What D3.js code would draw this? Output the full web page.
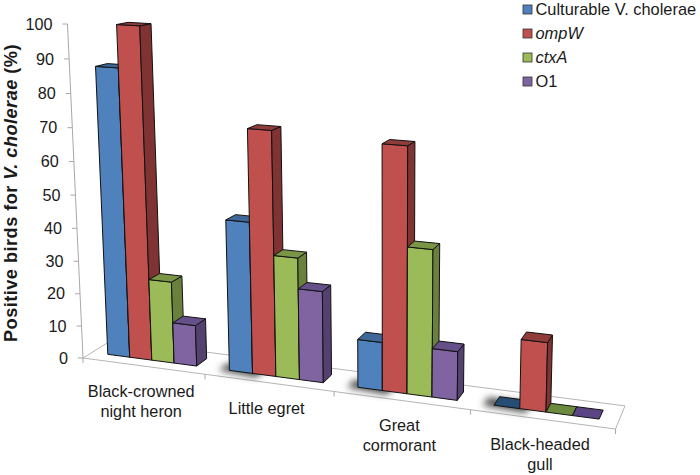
<!DOCTYPE html>
<html>
<head>
<meta charset="utf-8">
<script src="https://cdn.jsdelivr.net/npm/d3@7"></script>
<style>
body { margin: 0; background: #fff; }
text { font-family: "Liberation Sans", Arial, sans-serif; fill: #1a1a1a; }
</style>
</head>
<body>
<div id="chart"></div>
<script>
// values
var categories = [["Black-crowned", "night heron"], ["Little egret"], ["Great", "cormorant"], ["Black-headed", "gull"]];
var seriesNames = ["Culturable V. cholerae", "ompW", "ctxA", "O1"];
var culturable = [87.5, 45.5, 14.3, 0];
var ompW = [100, 72.7, 71.4, 20];
var ctxA = [25, 36.4, 42.9, 0];
var o1 = [12.5, 27.3, 14.3, 0];
var yTicks = [0, 10, 20, 30, 40, 50, 60, 70, 80, 90, 100];

var series = [culturable, ompW, ctxA, o1];
var frontColor = ["#4f81bd", "#c0504d", "#9bbb59", "#8064a2"];
var sideColor = ["#35577f", "#7f3332", "#6a813d", "#54416f"];
var topColor = ["#3f6797", "#8f3c3a", "#7b9546", "#65508a"];
var flatColor = ["#264d73", "#8f3c3a", "#6b8a3e", "#5b4584"];

var width = 700, height = 475;

var svg = d3.select("#chart").append("svg")
	.attr("width", width)
	.attr("height", height)
	.style("display", "block");

svg.append("defs").append("filter")
	.attr("id", "soft")
	.attr("x", "-50%").attr("y", "-50%").attr("width", "200%").attr("height", "200%")
  .append("feGaussianBlur")
	.attr("stdDeviation", 3.5);

// scales work in the unit box of the 3d plot, project() takes it to the screen
var xScale = d3.scaleBand().domain(d3.range(categories.length)).range([0, 1])
	.paddingInner(0.264).paddingOuter(0.132);
var barScale = d3.scaleBand().domain(d3.range(series.length)).range([0, xScale.bandwidth()]);
var yScale = d3.scaleLinear().domain([0, 100]).range([0, 1]);
var zFront = 0.31, zBack = 0.7;

function project(x, y, z) {
	var w = 1 - 0.108 * x - 0.048 * y + 0.04 * z;
	return [
		(466 * x - 18.74 * y + 33.5 * z + 83) / w,
		(24.7 * x - 335.15 * y - 4.4 * z + 358) / w
	];
}

var poly = d3.line().curve(d3.curveLinearClosed);

function face(pts, fill, stroke) {
	return svg.append("path")
		.attr("d", poly(pts))
		.attr("fill", fill)
		.attr("stroke", stroke)
		.attr("stroke-width", 1)
		.attr("stroke-linejoin", "round");
}

// floor
face([project(0, 0, 0), project(1, 0, 0), project(1, 0, 1), project(0, 0, 1)], "#fff", "#b5b5b5");

// y axis
svg.append("line")
	.attr("x1", project(0, 0, 0)[0]).attr("y1", project(0, 0, 0)[1])
	.attr("x2", project(0, 1, 0)[0]).attr("y2", project(0, 1, 0)[1])
	.attr("stroke", "#a8a8a8");

yTicks.forEach(function(t) {
	var p = project(0, yScale(t), 0);
	svg.append("line")
		.attr("x1", p[0] - 5).attr("x2", p[0])
		.attr("y1", p[1]).attr("y2", p[1])
		.attr("stroke", "#a8a8a8");
	svg.append("text")
		.attr("x", p[0] - 15)
		.attr("y", p[1])
		.attr("dy", ".35em")
		.attr("text-anchor", "end")
		.style("font-size", "16.2px")
		.text(t);
});

// x axis ticks
d3.range(categories.length + 1).forEach(function(i) {
	var p = project(i / categories.length, 0, 0);
	svg.append("line")
		.attr("x1", p[0]).attr("x2", p[0])
		.attr("y1", p[1]).attr("y2", p[1] + 5)
		.attr("stroke", "#a8a8a8");
});

// soft shadow on the floor, left of each group
categories.forEach(function(c, i) {
	if (i == 0) return;
	var x0 = xScale(i);
	face([project(x0 - 0.018, 0, zFront - 0.06), project(x0 + 0.06, 0, zFront - 0.14),
		project(x0 + 0.06, 0, zBack - 0.1), project(x0 - 0.018, 0, zBack - 0.1)], "#444", "none")
		.attr("filter", "url(#soft)");
});

// bars, left to right so that each one covers the side of the one before
categories.forEach(function(c, i) {
	series.forEach(function(s, j) {
		var x0 = xScale(i) + barScale(j),
			x1 = x0 + barScale.bandwidth(),
			h = yScale(s[i]);
		if (s[i] > 0) {
			face([project(x0, 0, zFront), project(x1, 0, zFront), project(x1, h, zFront), project(x0, h, zFront)], frontColor[j], "#111");
			face([project(x1, 0, zFront), project(x1, 0, zBack), project(x1, h, zBack), project(x1, h, zFront)], sideColor[j], "#111");
		}
		face([project(x0, h, zFront), project(x1, h, zFront), project(x1, h, zBack), project(x0, h, zBack)],
			s[i] > 0 ? topColor[j] : flatColor[j], "#111");
	});
});

// category labels
categories.forEach(function(c, i) {
	var p = project(xScale(i) + xScale.bandwidth() / 2, 0, 0);
	var label = svg.append("text")
		.attr("text-anchor", "middle")
		.style("font-size", "16.3px");
	c.forEach(function(line, k) {
		label.append("tspan")
			.attr("x", p[0] - 2)
			.attr("y", p[1] + 31 + k * 19.5)
			.text(line);
	});
});

// y title, a bit smaller and spaced out so it stays inside the left edge
var title = svg.append("text")
	.attr("transform", "translate(17,342) rotate(-90)")
	.style("font-size", "18.2px")
	.style("letter-spacing", "0.46px")
	.style("font-weight", "bold");
title.append("tspan").text("Positive birds for ");
title.append("tspan").style("font-style", "italic").text("V. cholerae");
title.append("tspan").text(" (%)");

// legend, first row sits right under the top edge
var legendY = d3.scaleLinear().domain([0, 3]).range([9.5, 81.5]);

var legend = svg.selectAll(".legend")
	.data(seriesNames)
  .enter().append("g")
	.attr("class", "legend")
	.attr("transform", function(d, i) { return "translate(523," + legendY(i) + ")"; });

legend.append("rect")
	.attr("y", -4.5)
	.attr("width", 9)
	.attr("height", 9)
	.attr("fill", function(d, i) { return frontColor[i]; })
	.attr("stroke", "#333")
	.attr("stroke-width", 0.8);

legend.append("text")
	.attr("x", 12.5)
	.attr("dy", ".35em")
	.style("font-size", "16.4px")
	.style("font-style", function(d, i) { return i == 1 || i == 2 ? "italic" : "normal"; })
	.text(function(d) { return d; });
</script>
</body>
</html>
